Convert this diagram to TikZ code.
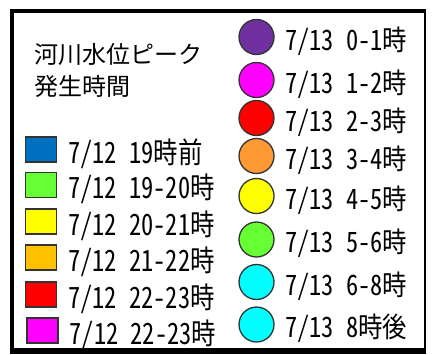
\documentclass[tikz,border=0pt]{standalone}
\usepackage{graphicx}
\usepackage{fontspec}
\setmainfont{Noto Sans CJK JP}
\newfontfamily\jpm[RawFeature=+hwid]{Noto Sans CJK JP}
\definecolor{cblue}{HTML}{0070C0}
\definecolor{cgreen}{HTML}{66FF33}
\definecolor{cyellow}{HTML}{FFFF00}
\definecolor{cgold}{HTML}{FFC000}
\definecolor{cred}{HTML}{FF0000}
\definecolor{cmag}{HTML}{FF00FF}
\definecolor{cpurple}{HTML}{7030A0}
\definecolor{corange}{HTML}{FF9933}
\definecolor{ccyan}{HTML}{00FFFF}
\definecolor{cedge}{HTML}{333333}
\newcommand\talltxt[2]{\scalebox{1}[#1]{#2}}
\tikzset{
  sq/.style={draw=cedge, line width=1.3pt, minimum width=31pt, minimum height=25pt, inner sep=0pt},
  dot/.style={circle, draw=cedge, line width=1.3pt, minimum size=35pt, inner sep=0pt},
  lbl/.style={anchor=base west, inner sep=0pt, font=\jpm\fontsize{24.4}{24.4}\selectfont},
  ttl/.style={anchor=base west, inner sep=0pt, font=\fontsize{24}{24}\selectfont},
}
\begin{document}
\begin{tikzpicture}[x=1pt,y=-1pt]
\useasboundingbox (0,0) rectangle (433,354);
\fill[white] (0,0) rectangle (433,354);
% frame
\fill[black] (10,9) rectangle (425.5,353.5);
\fill[white] (14,12.5) rectangle (423.5,348);
% title
\node[ttl] (t1) at (34,63.5) {河川水位ピーク};
\node[ttl] (t2) at (34,95.5) {発生時間};
% left legend
\node[sq, fill=cblue]   (s1) at (41,149.5) {};
\node[sq, fill=cgreen]  (s2) at (41,185) {};
\node[sq, fill=cyellow] (s3) at (41,221.5) {};
\node[sq, fill=cgold]   (s4) at (41,257.5) {};
\node[sq, fill=cred]    (s5) at (41,294.5) {};
\node[sq, fill=cmag]    (s6) at (42.5,330.5) {};
\node[lbl] (l1) at (68,163) {\talltxt{1.2}{7/12 19時前}};
\node[lbl] (l2) at (68,198.5) {\talltxt{1.2}{7/12 19-20時}};
\node[lbl] (l3) at (68,235) {\talltxt{1.2}{7/12 20-21時}};
\node[lbl] (l4) at (68,271) {\talltxt{1.2}{7/12 21-22時}};
\node[lbl] (l5) at (68,308) {\talltxt{1.2}{7/12 22-23時}};
\node[lbl] (l6) at (69.5,344) {\talltxt{1.2}{7/12 22-23時}};
% right legend
\node[dot, fill=cpurple] (c1) at (256.5,37) {};
\node[dot, fill=cmag]    (c2) at (256.5,80) {};
\node[dot, fill=cred]    (c3) at (256.5,118) {};
\node[dot, fill=corange] (c4) at (256.5,156) {};
\node[dot, fill=cyellow] (c5) at (256.5,196) {};
\node[dot, fill=cgreen]  (c6) at (256.5,239.5) {};
\node[dot, fill=ccyan]   (c7) at (256.5,282) {};
\node[dot, fill=ccyan]   (c8) at (256.5,324.5) {};
\node[lbl] (r1) at (285,50.5) {\talltxt{1.15}{7/13 0-1時}};
\node[lbl] (r2) at (285,93) {\talltxt{1.15}{7/13 1-2時}};
\node[lbl] (r3) at (285,131.5) {\talltxt{1.15}{7/13 2-3時}};
\node[lbl] (r4) at (285,169.5) {\talltxt{1.15}{7/13 3-4時}};
\node[lbl] (r5) at (285,209) {\talltxt{1.15}{7/13 4-5時}};
\node[lbl] (r6) at (285,252.5) {\talltxt{1.15}{7/13 5-6時}};
\node[lbl] (r7) at (285,295) {\talltxt{1.15}{7/13 6-8時}};
\node[lbl] (r8) at (285,337.5) {\talltxt{1.15}{7/13 8時後}};
\end{tikzpicture}
\end{document}
